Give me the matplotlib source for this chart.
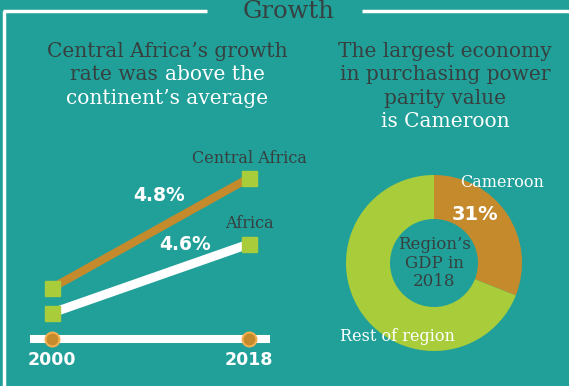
import matplotlib
matplotlib.use("Agg")
import matplotlib.pyplot as plt

# data
years = [2000, 2018]
central_africa = [51, 161]   # drawn heights above the baseline
africa = [26, 95]
central_rate = "4.8%"
africa_rate = "4.6%"

gdp_labels = ["Cameroon", "Rest of region"]
gdp_share = [31, 69]

teal = "#21a099"
orange = "#c58a2b"
green = "#a8cc3a"
dark = "#36403f"
white = "white"
serif = "DejaVu Serif"

W, H = 569, 386
fig = plt.figure(figsize=(W / 100, H / 100), dpi=100, facecolor=teal)

# background axes in pixel units for the frame and headings
bg = fig.add_axes([0, 0, 1, 1])
bg.set_xlim(0, W)
bg.set_ylim(H, 0)
bg.axis("off")
bg.set_facecolor(teal)
bg.plot([4.5, 4.5], [10.5, H], color=white, lw=2.5, solid_capstyle="butt")
bg.plot([3, 207], [10.5, 10.5], color=white, lw=2.5, solid_capstyle="butt")
bg.plot([362, W], [10.5, 10.5], color=white, lw=2.5, solid_capstyle="butt")
bg.text(289, 18, "Growth", ha="center", va="baseline", fontsize=17.5, color=dark, family=serif)

renderer = fig.canvas.get_renderer()


def colored_line(x, y, parts, size):
    # draw a line of text made of differently coloured pieces, centred on x
    pieces = []
    total = 0
    for txt, col in parts:
        t = bg.text(0, y, txt, fontsize=size, family=serif, color=col, va="baseline", ha="left")
        w = t.get_window_extent(renderer).width
        pieces.append((t, w))
        total += w
    cur = x - total / 2
    for t, w in pieces:
        t.set_x(cur)
        cur += w


hs = 14.5
base = [57, 80.3, 103.6, 127]
colored_line(167.5, base[0], [("Central Africa\u2019s growth", dark)], hs)
colored_line(167.5, base[1], [("rate was ", dark), ("above the", white)], hs)
colored_line(167.5, base[2], [("continent\u2019s average", white)], hs)
colored_line(445, base[0], [("The largest economy", dark)], hs)
colored_line(445, base[1], [("in purchasing power", dark)], hs)
colored_line(445, base[2], [("parity value", dark)], hs)
colored_line(445, base[3], [("is Cameroon", white)], hs)

# line chart
ax = fig.add_axes([30 / W, (H - 365) / H, 240 / W, 225 / H])
ax.set_xlim(1998.0, 2019.92)
ax.set_ylim(-26, 199)
ax.axis("off")
ax.axhline(0, color=white, lw=5.8, solid_capstyle="butt")
ax.plot(years, africa, color=white, lw=6.5, solid_capstyle="butt", zorder=2)
ax.plot(years, central_africa, color=orange, lw=5.8, solid_capstyle="butt", zorder=2)
ax.plot(years, africa, ls="none", marker="s", ms=10.8, mfc=green, mec=green, zorder=3)
ax.plot(years, central_africa, ls="none", marker="s", ms=10.8, mfc=green, mec=green, zorder=3)
ax.plot(years, [0, 0], ls="none", marker="o", ms=10, mfc=orange, mec="#f4b050", mew=1.5, zorder=3)
for yr in years:
    ax.text(yr, -21, str(yr), ha="center", va="center", color=white, fontsize=12.5,
            fontweight="bold", clip_on=False)
ax.text(2009.8, 144, central_rate, ha="center", va="center", color=white, fontsize=13.5,
        fontweight="bold")
ax.text(2012.2, 94, africa_rate, ha="center", va="center", color=white, fontsize=13.5,
        fontweight="bold")
ax.text(2018, 181, "Central Africa", ha="center", va="center", color=dark, fontsize=11.5,
        family=serif, clip_on=False)
ax.text(2018, 116, "Africa", ha="center", va="center", color=dark, fontsize=11.5,
        family=serif)

# donut
pax = fig.add_axes([(434 - 88) / W, (H - 263 - 88) / H, 176 / W, 176 / H])
pax.pie(gdp_share, colors=[orange, green], startangle=90, counterclock=False, radius=1,
        wedgeprops=dict(width=0.5, linewidth=0))
pax.set_xlim(-1, 1)
pax.set_ylim(-1, 1)
pax.set_aspect("equal")
pax.text(0, 0, "Region\u2019s\nGDP in\n2018", ha="center", va="center", color=dark,
         fontsize=12, family=serif, linespacing=1.1)
pax.text(0.77, 0.92, gdp_labels[0], ha="center", va="center", color=white, fontsize=11.5,
         family=serif, clip_on=False)
pax.text(0.47, 0.55, f"{gdp_share[0]}%", ha="center", va="center", color=white, fontsize=14,
         fontweight="bold")
pax.text(-0.42, -0.83, gdp_labels[1], ha="center", va="center", color=white, fontsize=11.5,
         family=serif, clip_on=False)

fig.savefig("out.png", dpi=100, facecolor=teal)
